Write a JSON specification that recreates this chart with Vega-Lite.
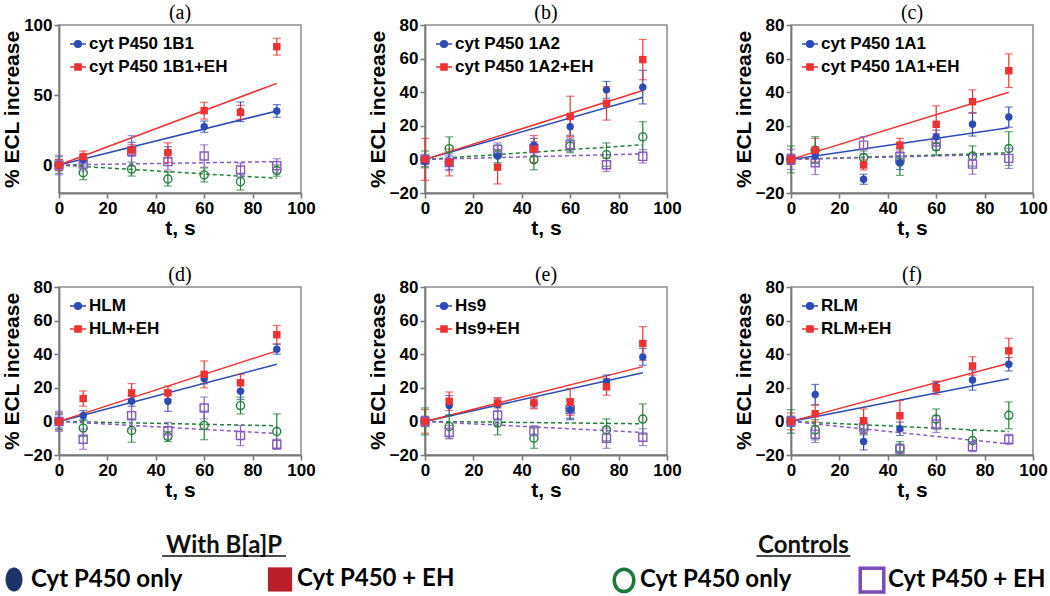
{
"$schema": "https://vega.github.io/schema/vega-lite/v6.json",
"padding": {"left": 0, "top": 2, "right": 2, "bottom": 0},
"background": "white",
"datasets": {
"fits": [
{"p":"a","s":"B1","t":0,"v":0},{"p":"a","s":"B1","t":90,"v":38.6},
{"p":"a","s":"B2","t":0,"v":0},{"p":"a","s":"B2","t":90,"v":58.3},
{"p":"a","s":"C1","t":0,"v":0},{"p":"a","s":"C1","t":90,"v":-9.5},
{"p":"a","s":"C2","t":0,"v":0},{"p":"a","s":"C2","t":90,"v":2.4},
{"p":"b","s":"B1","t":0,"v":0},{"p":"b","s":"B1","t":90,"v":37},
{"p":"b","s":"B2","t":0,"v":0},{"p":"b","s":"B2","t":90,"v":41},
{"p":"b","s":"C1","t":0,"v":0},{"p":"b","s":"C1","t":90,"v":8.7},
{"p":"b","s":"C2","t":0,"v":0},{"p":"b","s":"C2","t":90,"v":3.3},
{"p":"c","s":"B1","t":0,"v":0},{"p":"c","s":"B1","t":90,"v":18.9},
{"p":"c","s":"B2","t":0,"v":0},{"p":"c","s":"B2","t":90,"v":40},
{"p":"c","s":"C1","t":0,"v":0},{"p":"c","s":"C1","t":90,"v":3.9},
{"p":"c","s":"C2","t":0,"v":0},{"p":"c","s":"C2","t":90,"v":3.1},
{"p":"d","s":"B1","t":0,"v":0},{"p":"d","s":"B1","t":90,"v":34},
{"p":"d","s":"B2","t":0,"v":0},{"p":"d","s":"B2","t":90,"v":42},
{"p":"d","s":"C1","t":0,"v":0},{"p":"d","s":"C1","t":90,"v":-2.6},
{"p":"d","s":"C2","t":0,"v":0},{"p":"d","s":"C2","t":90,"v":-7.2},
{"p":"e","s":"B1","t":0,"v":0},{"p":"e","s":"B1","t":90,"v":29},
{"p":"e","s":"B2","t":0,"v":0},{"p":"e","s":"B2","t":90,"v":32.6},
{"p":"e","s":"C1","t":0,"v":0},{"p":"e","s":"C1","t":90,"v":-1.4},
{"p":"e","s":"C2","t":0,"v":0},{"p":"e","s":"C2","t":90,"v":-6.6},
{"p":"f","s":"B1","t":0,"v":0},{"p":"f","s":"B1","t":90,"v":25.4},
{"p":"f","s":"B2","t":0,"v":0},{"p":"f","s":"B2","t":90,"v":34.6},
{"p":"f","s":"C1","t":0,"v":0},{"p":"f","s":"C1","t":90,"v":-6},
{"p":"f","s":"C2","t":0,"v":0},{"p":"f","s":"C2","t":90,"v":-13.4}
],
"pts": [
{"p":"a","s":"B1","t":0,"v":0,"e":4},{"p":"a","s":"B1","t":10,"v":4,"e":3},{"p":"a","s":"B1","t":30,"v":11.2,"e":5},{"p":"a","s":"B1","t":45,"v":9,"e":4},{"p":"a","s":"B1","t":60,"v":27.4,"e":4},{"p":"a","s":"B1","t":75,"v":38,"e":7},{"p":"a","s":"B1","t":90,"v":38.6,"e":4.5},
{"p":"a","s":"B2","t":0,"v":0,"e":4},{"p":"a","s":"B2","t":10,"v":6,"e":4},{"p":"a","s":"B2","t":30,"v":10.7,"e":4},{"p":"a","s":"B2","t":45,"v":8.8,"e":7},{"p":"a","s":"B2","t":60,"v":38.8,"e":6},{"p":"a","s":"B2","t":75,"v":37.6,"e":5},{"p":"a","s":"B2","t":90,"v":84.5,"e":6},
{"p":"a","s":"C1","t":0,"v":0,"e":6},{"p":"a","s":"C1","t":10,"v":-5.5,"e":5},{"p":"a","s":"C1","t":30,"v":-2.9,"e":5},{"p":"a","s":"C1","t":45,"v":-10,"e":5},{"p":"a","s":"C1","t":60,"v":-7.1,"e":5},{"p":"a","s":"C1","t":75,"v":-11.9,"e":6},{"p":"a","s":"C1","t":90,"v":-4,"e":4},
{"p":"a","s":"C2","t":0,"v":0,"e":7},{"p":"a","s":"C2","t":10,"v":0.7,"e":5},{"p":"a","s":"C2","t":30,"v":10,"e":11},{"p":"a","s":"C2","t":45,"v":2.4,"e":6},{"p":"a","s":"C2","t":60,"v":6.4,"e":8},{"p":"a","s":"C2","t":75,"v":-3.6,"e":5},{"p":"a","s":"C2","t":90,"v":-0.5,"e":5},
{"p":"b","s":"B1","t":0,"v":-1.3,"e":3},{"p":"b","s":"B1","t":10,"v":-2,"e":4},{"p":"b","s":"B1","t":30,"v":2,"e":4},{"p":"b","s":"B1","t":45,"v":8.5,"e":4},{"p":"b","s":"B1","t":60,"v":19.4,"e":5},{"p":"b","s":"B1","t":75,"v":41.4,"e":5},{"p":"b","s":"B1","t":90,"v":43,"e":10},
{"p":"b","s":"B2","t":0,"v":0,"e":12.5},{"p":"b","s":"B2","t":10,"v":-1.8,"e":8},{"p":"b","s":"B2","t":30,"v":-4.6,"e":10},{"p":"b","s":"B2","t":45,"v":6.2,"e":8},{"p":"b","s":"B2","t":60,"v":25.6,"e":12},{"p":"b","s":"B2","t":75,"v":33.4,"e":10},{"p":"b","s":"B2","t":90,"v":59.4,"e":12},
{"p":"b","s":"C1","t":0,"v":0,"e":5},{"p":"b","s":"C1","t":10,"v":6.4,"e":7},{"p":"b","s":"C1","t":30,"v":2.7,"e":6},{"p":"b","s":"C1","t":45,"v":-0.2,"e":6},{"p":"b","s":"C1","t":60,"v":8,"e":4},{"p":"b","s":"C1","t":75,"v":2.8,"e":7},{"p":"b","s":"C1","t":90,"v":13.4,"e":9},
{"p":"b","s":"C2","t":0,"v":0,"e":3},{"p":"b","s":"C2","t":10,"v":-1.8,"e":5},{"p":"b","s":"C2","t":30,"v":5.8,"e":4},{"p":"b","s":"C2","t":45,"v":6.5,"e":4},{"p":"b","s":"C2","t":60,"v":8.8,"e":4},{"p":"b","s":"C2","t":75,"v":-3.2,"e":4},{"p":"b","s":"C2","t":90,"v":1.8,"e":4},
{"p":"c","s":"B1","t":0,"v":0,"e":3},{"p":"c","s":"B1","t":10,"v":2,"e":4},{"p":"c","s":"B1","t":30,"v":-11.8,"e":3},{"p":"c","s":"B1","t":45,"v":-2,"e":4},{"p":"c","s":"B1","t":60,"v":13.4,"e":4},{"p":"c","s":"B1","t":75,"v":20.9,"e":7},{"p":"c","s":"B1","t":90,"v":25.2,"e":6},
{"p":"c","s":"B2","t":0,"v":0,"e":3},{"p":"c","s":"B2","t":10,"v":5.5,"e":7},{"p":"c","s":"B2","t":30,"v":-3.3,"e":3},{"p":"c","s":"B2","t":45,"v":8.5,"e":4},{"p":"c","s":"B2","t":60,"v":20.9,"e":11},{"p":"c","s":"B2","t":75,"v":34.4,"e":7},{"p":"c","s":"B2","t":90,"v":52.8,"e":10},
{"p":"c","s":"C1","t":0,"v":0,"e":8},{"p":"c","s":"C1","t":10,"v":5.5,"e":8},{"p":"c","s":"C1","t":30,"v":1,"e":4},{"p":"c","s":"C1","t":45,"v":-1.5,"e":8},{"p":"c","s":"C1","t":60,"v":7.5,"e":5},{"p":"c","s":"C1","t":75,"v":2,"e":6},{"p":"c","s":"C1","t":90,"v":6.5,"e":10},
{"p":"c","s":"C2","t":0,"v":0,"e":6},{"p":"c","s":"C2","t":10,"v":-2,"e":7},{"p":"c","s":"C2","t":30,"v":8.5,"e":5},{"p":"c","s":"C2","t":45,"v":1.6,"e":4},{"p":"c","s":"C2","t":60,"v":10.4,"e":5},{"p":"c","s":"C2","t":75,"v":-2.8,"e":6},{"p":"c","s":"C2","t":90,"v":0.6,"e":6},
{"p":"d","s":"B1","t":0,"v":0,"e":4},{"p":"d","s":"B1","t":10,"v":3.4,"e":3},{"p":"d","s":"B1","t":30,"v":12,"e":3},{"p":"d","s":"B1","t":45,"v":12,"e":6},{"p":"d","s":"B1","t":60,"v":25.4,"e":3},{"p":"d","s":"B1","t":75,"v":18,"e":5},{"p":"d","s":"B1","t":90,"v":43,"e":3},
{"p":"d","s":"B2","t":0,"v":0,"e":5},{"p":"d","s":"B2","t":10,"v":13.6,"e":4.5},{"p":"d","s":"B2","t":30,"v":17,"e":5.5},{"p":"d","s":"B2","t":45,"v":17,"e":4},{"p":"d","s":"B2","t":60,"v":28,"e":8},{"p":"d","s":"B2","t":75,"v":23,"e":5},{"p":"d","s":"B2","t":90,"v":51.6,"e":5.5},
{"p":"d","s":"C1","t":0,"v":0,"e":5},{"p":"d","s":"C1","t":10,"v":-4,"e":5},{"p":"d","s":"C1","t":30,"v":-5.4,"e":7},{"p":"d","s":"C1","t":45,"v":-9,"e":3},{"p":"d","s":"C1","t":60,"v":-2.4,"e":8.5},{"p":"d","s":"C1","t":75,"v":9.4,"e":5},{"p":"d","s":"C1","t":90,"v":-6,"e":10.5},
{"p":"d","s":"C2","t":0,"v":0,"e":6},{"p":"d","s":"C2","t":10,"v":-10.6,"e":6},{"p":"d","s":"C2","t":30,"v":3.4,"e":8},{"p":"d","s":"C2","t":45,"v":-5.6,"e":5},{"p":"d","s":"C2","t":60,"v":8,"e":6.5},{"p":"d","s":"C2","t":75,"v":-8.4,"e":6},{"p":"d","s":"C2","t":90,"v":-13.6,"e":3},
{"p":"e","s":"B1","t":0,"v":0,"e":3},{"p":"e","s":"B1","t":10,"v":9.4,"e":6},{"p":"e","s":"B1","t":30,"v":10,"e":4},{"p":"e","s":"B1","t":45,"v":11,"e":3},{"p":"e","s":"B1","t":60,"v":7,"e":6},{"p":"e","s":"B1","t":75,"v":23.6,"e":4},{"p":"e","s":"B1","t":90,"v":38.4,"e":5},
{"p":"e","s":"B2","t":0,"v":0,"e":7},{"p":"e","s":"B2","t":10,"v":12,"e":5.5},{"p":"e","s":"B2","t":30,"v":11,"e":3},{"p":"e","s":"B2","t":45,"v":11,"e":3.5},{"p":"e","s":"B2","t":60,"v":11.6,"e":8},{"p":"e","s":"B2","t":75,"v":20.6,"e":5},{"p":"e","s":"B2","t":90,"v":46.4,"e":10},
{"p":"e","s":"C1","t":0,"v":0,"e":8},{"p":"e","s":"C1","t":10,"v":-3,"e":7},{"p":"e","s":"C1","t":30,"v":-1,"e":7},{"p":"e","s":"C1","t":45,"v":-10,"e":6},{"p":"e","s":"C1","t":60,"v":7.6,"e":6},{"p":"e","s":"C1","t":75,"v":-5,"e":6.5},{"p":"e","s":"C1","t":90,"v":1.4,"e":9},
{"p":"e","s":"C2","t":0,"v":0,"e":3},{"p":"e","s":"C2","t":10,"v":-6.4,"e":4},{"p":"e","s":"C2","t":30,"v":3.6,"e":5},{"p":"e","s":"C2","t":45,"v":-5.6,"e":3},{"p":"e","s":"C2","t":60,"v":7,"e":5},{"p":"e","s":"C2","t":75,"v":-10,"e":6},{"p":"e","s":"C2","t":90,"v":-9.4,"e":5},
{"p":"f","s":"B1","t":0,"v":0,"e":3},{"p":"f","s":"B1","t":10,"v":16,"e":6},{"p":"f","s":"B1","t":30,"v":-12,"e":5},{"p":"f","s":"B1","t":45,"v":-4.4,"e":4},{"p":"f","s":"B1","t":60,"v":20.6,"e":3},{"p":"f","s":"B1","t":75,"v":24.6,"e":6},{"p":"f","s":"B1","t":90,"v":34,"e":4},
{"p":"f","s":"B2","t":0,"v":0,"e":5},{"p":"f","s":"B2","t":10,"v":4.6,"e":5},{"p":"f","s":"B2","t":30,"v":0.4,"e":7},{"p":"f","s":"B2","t":45,"v":3.4,"e":9},{"p":"f","s":"B2","t":60,"v":20,"e":4},{"p":"f","s":"B2","t":75,"v":33,"e":5.5},{"p":"f","s":"B2","t":90,"v":42,"e":7.5},
{"p":"f","s":"C1","t":0,"v":0,"e":7},{"p":"f","s":"C1","t":10,"v":-5,"e":6},{"p":"f","s":"C1","t":30,"v":-3,"e":5},{"p":"f","s":"C1","t":45,"v":-16,"e":4},{"p":"f","s":"C1","t":60,"v":1.4,"e":6},{"p":"f","s":"C1","t":75,"v":-11.4,"e":6},{"p":"f","s":"C1","t":90,"v":3.6,"e":8},
{"p":"f","s":"C2","t":0,"v":0,"e":3},{"p":"f","s":"C2","t":10,"v":-7.6,"e":5},{"p":"f","s":"C2","t":30,"v":-3.4,"e":4},{"p":"f","s":"C2","t":45,"v":-16.4,"e":3},{"p":"f","s":"C2","t":60,"v":-1.6,"e":5},{"p":"f","s":"C2","t":75,"v":-15,"e":3},{"p":"f","s":"C2","t":90,"v":-10.6,"e":3}
]
},
"resolve": {"scale": {"x": "independent", "y": "independent", "color": "independent", "stroke": "independent", "shape": "independent"}},
"spacing": 33,
"vconcat": [
{
"columns": 3,
"spacing": {"row": 25, "column": 50},
"resolve": {"scale": {"x": "independent", "y": "independent", "color": "independent", "stroke": "independent", "shape": "independent"}},
"concat": [
{
"title": "(a)", "width": 242, "height": 168,
"encoding": {
"x": {"field": "t", "type": "quantitative", "scale": {"domain": [0, 100], "nice": false, "zero": false}, "axis": {"title": "t, s", "values": [0, 20, 40, 60, 80, 100]}},
"y": {"field": "v", "type": "quantitative", "scale": {"domain": [-20, 100], "nice": false, "zero": false}, "axis": {"title": "% ECL increase", "values": [0, 50, 100]}},
"color": {"field": "s", "type": "nominal", "scale": {"domain": ["B1", "B2", "C1", "C2"], "range": ["#2d4bb4", "#ef3131", "#23803a", "#8a5ac4"]}, "legend": {"title": null, "values": ["B1", "B2"], "labelExpr": "datum.value=='B1' ? 'cyt P450 1B1' : 'cyt P450 1B1+EH'"}}
},
"layer": [
{"data": {"name": "fits"}, "transform": [{"filter": "datum.p=='a' && (datum.s=='B1' || datum.s=='B2')"}], "mark": {"type": "line", "strokeWidth": 1.5}, "encoding": {}},
{"data": {"name": "fits"}, "transform": [{"filter": "datum.p=='a' && (datum.s=='C1' || datum.s=='C2')"}], "mark": {"type": "line", "strokeWidth": 1.5, "strokeDash": [4, 3]}, "encoding": {}},
{"data": {"name": "pts"}, "transform": [{"filter": "datum.p=='a'"}], "mark": {"type": "errorbar", "ticks": {"size": 8}, "thickness": 1.2}, "encoding": {"yError": {"field": "e"}}},
{"data": {"name": "pts"}, "transform": [{"filter": "datum.p=='a' && datum.s=='C1'"}], "mark": {"type": "point", "shape": "circle", "filled": false, "size": 65, "strokeWidth": 1.4, "opacity": 1}, "encoding": {}},
{"data": {"name": "pts"}, "transform": [{"filter": "datum.p=='a' && datum.s=='C2'"}], "mark": {"type": "point", "shape": "square", "filled": false, "size": 65, "strokeWidth": 1.4, "opacity": 1}, "encoding": {}},
{"data": {"name": "pts"}, "transform": [{"filter": "datum.p=='a' && datum.s=='B1'"}], "mark": {"type": "point", "shape": "circle", "filled": true, "size": 55, "opacity": 1}, "encoding": {}},
{"data": {"name": "pts"}, "transform": [{"filter": "datum.p=='a' && datum.s=='B2'"}], "mark": {"type": "point", "shape": "square", "filled": true, "size": 55, "opacity": 1}, "encoding": {}},
{"data": {"name": "pts"}, "transform": [{"filter": "datum.p=='none'"}], "mark": {"type": "point", "filled": true, "strokeWidth": 1.5, "opacity": 1}, "encoding": {
 "stroke": {"field": "s", "type": "nominal", "scale": {"domain": ["B1", "B2", "C1", "C2"], "range": ["#2d4bb4", "#ef3131", "#23803a", "#8a5ac4"]}, "legend": {"title": null, "values": ["B1", "B2"], "labelExpr": "datum.value=='B1' ? 'cyt P450 1B1' : 'cyt P450 1B1+EH'"}},
 "shape": {"field": "s", "type": "nominal", "scale": {"domain": ["B1", "B2", "C1", "C2"], "range": ["M-1,0H1M0.42,0A0.42,0.42,0,1,1,-0.42,0A0.42,0.42,0,1,1,0.42,0Z", "M-1,0H1M-0.38,-0.38H0.38V0.38H-0.38Z", "circle", "square"]}, "legend": {"title": null, "values": ["B1", "B2"], "labelExpr": "datum.value=='B1' ? 'cyt P450 1B1' : 'cyt P450 1B1+EH'"}}}}
]
},
{
"title": "(b)", "width": 242, "height": 168,
"encoding": {
"x": {"field": "t", "type": "quantitative", "scale": {"domain": [0, 100], "nice": false, "zero": false}, "axis": {"title": "t, s", "values": [0, 20, 40, 60, 80, 100]}},
"y": {"field": "v", "type": "quantitative", "scale": {"domain": [-20, 80], "nice": false, "zero": false}, "axis": {"title": "% ECL increase", "values": [-20, 0, 20, 40, 60, 80]}},
"color": {"field": "s", "type": "nominal", "scale": {"domain": ["B1", "B2", "C1", "C2"], "range": ["#2d4bb4", "#ef3131", "#23803a", "#8a5ac4"]}, "legend": {"title": null, "values": ["B1", "B2"], "labelExpr": "datum.value=='B1' ? 'cyt P450 1A2' : 'cyt P450 1A2+EH'"}}
},
"layer": [
{"data": {"name": "fits"}, "transform": [{"filter": "datum.p=='b' && (datum.s=='B1' || datum.s=='B2')"}], "mark": {"type": "line", "strokeWidth": 1.5}, "encoding": {}},
{"data": {"name": "fits"}, "transform": [{"filter": "datum.p=='b' && (datum.s=='C1' || datum.s=='C2')"}], "mark": {"type": "line", "strokeWidth": 1.5, "strokeDash": [4, 3]}, "encoding": {}},
{"data": {"name": "pts"}, "transform": [{"filter": "datum.p=='b'"}], "mark": {"type": "errorbar", "ticks": {"size": 8}, "thickness": 1.2}, "encoding": {"yError": {"field": "e"}}},
{"data": {"name": "pts"}, "transform": [{"filter": "datum.p=='b' && datum.s=='C1'"}], "mark": {"type": "point", "shape": "circle", "filled": false, "size": 65, "strokeWidth": 1.4, "opacity": 1}, "encoding": {}},
{"data": {"name": "pts"}, "transform": [{"filter": "datum.p=='b' && datum.s=='C2'"}], "mark": {"type": "point", "shape": "square", "filled": false, "size": 65, "strokeWidth": 1.4, "opacity": 1}, "encoding": {}},
{"data": {"name": "pts"}, "transform": [{"filter": "datum.p=='b' && datum.s=='B1'"}], "mark": {"type": "point", "shape": "circle", "filled": true, "size": 55, "opacity": 1}, "encoding": {}},
{"data": {"name": "pts"}, "transform": [{"filter": "datum.p=='b' && datum.s=='B2'"}], "mark": {"type": "point", "shape": "square", "filled": true, "size": 55, "opacity": 1}, "encoding": {}},
{"data": {"name": "pts"}, "transform": [{"filter": "datum.p=='none'"}], "mark": {"type": "point", "filled": true, "strokeWidth": 1.5, "opacity": 1}, "encoding": {
 "stroke": {"field": "s", "type": "nominal", "scale": {"domain": ["B1", "B2", "C1", "C2"], "range": ["#2d4bb4", "#ef3131", "#23803a", "#8a5ac4"]}, "legend": {"title": null, "values": ["B1", "B2"], "labelExpr": "datum.value=='B1' ? 'cyt P450 1A2' : 'cyt P450 1A2+EH'"}},
 "shape": {"field": "s", "type": "nominal", "scale": {"domain": ["B1", "B2", "C1", "C2"], "range": ["M-1,0H1M0.42,0A0.42,0.42,0,1,1,-0.42,0A0.42,0.42,0,1,1,0.42,0Z", "M-1,0H1M-0.38,-0.38H0.38V0.38H-0.38Z", "circle", "square"]}, "legend": {"title": null, "values": ["B1", "B2"], "labelExpr": "datum.value=='B1' ? 'cyt P450 1A2' : 'cyt P450 1A2+EH'"}}}}
]
},
{
"title": "(c)", "width": 242, "height": 168,
"encoding": {
"x": {"field": "t", "type": "quantitative", "scale": {"domain": [0, 100], "nice": false, "zero": false}, "axis": {"title": "t, s", "values": [0, 20, 40, 60, 80, 100]}},
"y": {"field": "v", "type": "quantitative", "scale": {"domain": [-20, 80], "nice": false, "zero": false}, "axis": {"title": "% ECL increase", "values": [-20, 0, 20, 40, 60, 80]}},
"color": {"field": "s", "type": "nominal", "scale": {"domain": ["B1", "B2", "C1", "C2"], "range": ["#2d4bb4", "#ef3131", "#23803a", "#8a5ac4"]}, "legend": {"title": null, "values": ["B1", "B2"], "labelExpr": "datum.value=='B1' ? 'cyt P450 1A1' : 'cyt P450 1A1+EH'"}}
},
"layer": [
{"data": {"name": "fits"}, "transform": [{"filter": "datum.p=='c' && (datum.s=='B1' || datum.s=='B2')"}], "mark": {"type": "line", "strokeWidth": 1.5}, "encoding": {}},
{"data": {"name": "fits"}, "transform": [{"filter": "datum.p=='c' && (datum.s=='C1' || datum.s=='C2')"}], "mark": {"type": "line", "strokeWidth": 1.5, "strokeDash": [4, 3]}, "encoding": {}},
{"data": {"name": "pts"}, "transform": [{"filter": "datum.p=='c'"}], "mark": {"type": "errorbar", "ticks": {"size": 8}, "thickness": 1.2}, "encoding": {"yError": {"field": "e"}}},
{"data": {"name": "pts"}, "transform": [{"filter": "datum.p=='c' && datum.s=='C1'"}], "mark": {"type": "point", "shape": "circle", "filled": false, "size": 65, "strokeWidth": 1.4, "opacity": 1}, "encoding": {}},
{"data": {"name": "pts"}, "transform": [{"filter": "datum.p=='c' && datum.s=='C2'"}], "mark": {"type": "point", "shape": "square", "filled": false, "size": 65, "strokeWidth": 1.4, "opacity": 1}, "encoding": {}},
{"data": {"name": "pts"}, "transform": [{"filter": "datum.p=='c' && datum.s=='B1'"}], "mark": {"type": "point", "shape": "circle", "filled": true, "size": 55, "opacity": 1}, "encoding": {}},
{"data": {"name": "pts"}, "transform": [{"filter": "datum.p=='c' && datum.s=='B2'"}], "mark": {"type": "point", "shape": "square", "filled": true, "size": 55, "opacity": 1}, "encoding": {}},
{"data": {"name": "pts"}, "transform": [{"filter": "datum.p=='none'"}], "mark": {"type": "point", "filled": true, "strokeWidth": 1.5, "opacity": 1}, "encoding": {
 "stroke": {"field": "s", "type": "nominal", "scale": {"domain": ["B1", "B2", "C1", "C2"], "range": ["#2d4bb4", "#ef3131", "#23803a", "#8a5ac4"]}, "legend": {"title": null, "values": ["B1", "B2"], "labelExpr": "datum.value=='B1' ? 'cyt P450 1A1' : 'cyt P450 1A1+EH'"}},
 "shape": {"field": "s", "type": "nominal", "scale": {"domain": ["B1", "B2", "C1", "C2"], "range": ["M-1,0H1M0.42,0A0.42,0.42,0,1,1,-0.42,0A0.42,0.42,0,1,1,0.42,0Z", "M-1,0H1M-0.38,-0.38H0.38V0.38H-0.38Z", "circle", "square"]}, "legend": {"title": null, "values": ["B1", "B2"], "labelExpr": "datum.value=='B1' ? 'cyt P450 1A1' : 'cyt P450 1A1+EH'"}}}}
]
},
{
"title": "(d)", "width": 242, "height": 168,
"encoding": {
"x": {"field": "t", "type": "quantitative", "scale": {"domain": [0, 100], "nice": false, "zero": false}, "axis": {"title": "t, s", "values": [0, 20, 40, 60, 80, 100]}},
"y": {"field": "v", "type": "quantitative", "scale": {"domain": [-20, 80], "nice": false, "zero": false}, "axis": {"title": "% ECL increase", "values": [-20, 0, 20, 40, 60, 80]}},
"color": {"field": "s", "type": "nominal", "scale": {"domain": ["B1", "B2", "C1", "C2"], "range": ["#2d4bb4", "#ef3131", "#23803a", "#8a5ac4"]}, "legend": {"title": null, "values": ["B1", "B2"], "labelExpr": "datum.value=='B1' ? 'HLM' : 'HLM+EH'"}}
},
"layer": [
{"data": {"name": "fits"}, "transform": [{"filter": "datum.p=='d' && (datum.s=='B1' || datum.s=='B2')"}], "mark": {"type": "line", "strokeWidth": 1.5}, "encoding": {}},
{"data": {"name": "fits"}, "transform": [{"filter": "datum.p=='d' && (datum.s=='C1' || datum.s=='C2')"}], "mark": {"type": "line", "strokeWidth": 1.5, "strokeDash": [4, 3]}, "encoding": {}},
{"data": {"name": "pts"}, "transform": [{"filter": "datum.p=='d'"}], "mark": {"type": "errorbar", "ticks": {"size": 8}, "thickness": 1.2}, "encoding": {"yError": {"field": "e"}}},
{"data": {"name": "pts"}, "transform": [{"filter": "datum.p=='d' && datum.s=='C1'"}], "mark": {"type": "point", "shape": "circle", "filled": false, "size": 65, "strokeWidth": 1.4, "opacity": 1}, "encoding": {}},
{"data": {"name": "pts"}, "transform": [{"filter": "datum.p=='d' && datum.s=='C2'"}], "mark": {"type": "point", "shape": "square", "filled": false, "size": 65, "strokeWidth": 1.4, "opacity": 1}, "encoding": {}},
{"data": {"name": "pts"}, "transform": [{"filter": "datum.p=='d' && datum.s=='B1'"}], "mark": {"type": "point", "shape": "circle", "filled": true, "size": 55, "opacity": 1}, "encoding": {}},
{"data": {"name": "pts"}, "transform": [{"filter": "datum.p=='d' && datum.s=='B2'"}], "mark": {"type": "point", "shape": "square", "filled": true, "size": 55, "opacity": 1}, "encoding": {}},
{"data": {"name": "pts"}, "transform": [{"filter": "datum.p=='none'"}], "mark": {"type": "point", "filled": true, "strokeWidth": 1.5, "opacity": 1}, "encoding": {
 "stroke": {"field": "s", "type": "nominal", "scale": {"domain": ["B1", "B2", "C1", "C2"], "range": ["#2d4bb4", "#ef3131", "#23803a", "#8a5ac4"]}, "legend": {"title": null, "values": ["B1", "B2"], "labelExpr": "datum.value=='B1' ? 'HLM' : 'HLM+EH'"}},
 "shape": {"field": "s", "type": "nominal", "scale": {"domain": ["B1", "B2", "C1", "C2"], "range": ["M-1,0H1M0.42,0A0.42,0.42,0,1,1,-0.42,0A0.42,0.42,0,1,1,0.42,0Z", "M-1,0H1M-0.38,-0.38H0.38V0.38H-0.38Z", "circle", "square"]}, "legend": {"title": null, "values": ["B1", "B2"], "labelExpr": "datum.value=='B1' ? 'HLM' : 'HLM+EH'"}}}}
]
},
{
"title": "(e)", "width": 242, "height": 168,
"encoding": {
"x": {"field": "t", "type": "quantitative", "scale": {"domain": [0, 100], "nice": false, "zero": false}, "axis": {"title": "t, s", "values": [0, 20, 40, 60, 80, 100]}},
"y": {"field": "v", "type": "quantitative", "scale": {"domain": [-20, 80], "nice": false, "zero": false}, "axis": {"title": "% ECL increase", "values": [-20, 0, 20, 40, 60, 80]}},
"color": {"field": "s", "type": "nominal", "scale": {"domain": ["B1", "B2", "C1", "C2"], "range": ["#2d4bb4", "#ef3131", "#23803a", "#8a5ac4"]}, "legend": {"title": null, "values": ["B1", "B2"], "labelExpr": "datum.value=='B1' ? 'Hs9' : 'Hs9+EH'"}}
},
"layer": [
{"data": {"name": "fits"}, "transform": [{"filter": "datum.p=='e' && (datum.s=='B1' || datum.s=='B2')"}], "mark": {"type": "line", "strokeWidth": 1.5}, "encoding": {}},
{"data": {"name": "fits"}, "transform": [{"filter": "datum.p=='e' && (datum.s=='C1' || datum.s=='C2')"}], "mark": {"type": "line", "strokeWidth": 1.5, "strokeDash": [4, 3]}, "encoding": {}},
{"data": {"name": "pts"}, "transform": [{"filter": "datum.p=='e'"}], "mark": {"type": "errorbar", "ticks": {"size": 8}, "thickness": 1.2}, "encoding": {"yError": {"field": "e"}}},
{"data": {"name": "pts"}, "transform": [{"filter": "datum.p=='e' && datum.s=='C1'"}], "mark": {"type": "point", "shape": "circle", "filled": false, "size": 65, "strokeWidth": 1.4, "opacity": 1}, "encoding": {}},
{"data": {"name": "pts"}, "transform": [{"filter": "datum.p=='e' && datum.s=='C2'"}], "mark": {"type": "point", "shape": "square", "filled": false, "size": 65, "strokeWidth": 1.4, "opacity": 1}, "encoding": {}},
{"data": {"name": "pts"}, "transform": [{"filter": "datum.p=='e' && datum.s=='B1'"}], "mark": {"type": "point", "shape": "circle", "filled": true, "size": 55, "opacity": 1}, "encoding": {}},
{"data": {"name": "pts"}, "transform": [{"filter": "datum.p=='e' && datum.s=='B2'"}], "mark": {"type": "point", "shape": "square", "filled": true, "size": 55, "opacity": 1}, "encoding": {}},
{"data": {"name": "pts"}, "transform": [{"filter": "datum.p=='none'"}], "mark": {"type": "point", "filled": true, "strokeWidth": 1.5, "opacity": 1}, "encoding": {
 "stroke": {"field": "s", "type": "nominal", "scale": {"domain": ["B1", "B2", "C1", "C2"], "range": ["#2d4bb4", "#ef3131", "#23803a", "#8a5ac4"]}, "legend": {"title": null, "values": ["B1", "B2"], "labelExpr": "datum.value=='B1' ? 'Hs9' : 'Hs9+EH'"}},
 "shape": {"field": "s", "type": "nominal", "scale": {"domain": ["B1", "B2", "C1", "C2"], "range": ["M-1,0H1M0.42,0A0.42,0.42,0,1,1,-0.42,0A0.42,0.42,0,1,1,0.42,0Z", "M-1,0H1M-0.38,-0.38H0.38V0.38H-0.38Z", "circle", "square"]}, "legend": {"title": null, "values": ["B1", "B2"], "labelExpr": "datum.value=='B1' ? 'Hs9' : 'Hs9+EH'"}}}}
]
},
{
"title": "(f)", "width": 242, "height": 168,
"encoding": {
"x": {"field": "t", "type": "quantitative", "scale": {"domain": [0, 100], "nice": false, "zero": false}, "axis": {"title": "t, s", "values": [0, 20, 40, 60, 80, 100]}},
"y": {"field": "v", "type": "quantitative", "scale": {"domain": [-20, 80], "nice": false, "zero": false}, "axis": {"title": "% ECL increase", "values": [-20, 0, 20, 40, 60, 80]}},
"color": {"field": "s", "type": "nominal", "scale": {"domain": ["B1", "B2", "C1", "C2"], "range": ["#2d4bb4", "#ef3131", "#23803a", "#8a5ac4"]}, "legend": {"title": null, "values": ["B1", "B2"], "labelExpr": "datum.value=='B1' ? 'RLM' : 'RLM+EH'"}}
},
"layer": [
{"data": {"name": "fits"}, "transform": [{"filter": "datum.p=='f' && (datum.s=='B1' || datum.s=='B2')"}], "mark": {"type": "line", "strokeWidth": 1.5}, "encoding": {}},
{"data": {"name": "fits"}, "transform": [{"filter": "datum.p=='f' && (datum.s=='C1' || datum.s=='C2')"}], "mark": {"type": "line", "strokeWidth": 1.5, "strokeDash": [4, 3]}, "encoding": {}},
{"data": {"name": "pts"}, "transform": [{"filter": "datum.p=='f'"}], "mark": {"type": "errorbar", "ticks": {"size": 8}, "thickness": 1.2}, "encoding": {"yError": {"field": "e"}}},
{"data": {"name": "pts"}, "transform": [{"filter": "datum.p=='f' && datum.s=='C1'"}], "mark": {"type": "point", "shape": "circle", "filled": false, "size": 65, "strokeWidth": 1.4, "opacity": 1}, "encoding": {}},
{"data": {"name": "pts"}, "transform": [{"filter": "datum.p=='f' && datum.s=='C2'"}], "mark": {"type": "point", "shape": "square", "filled": false, "size": 65, "strokeWidth": 1.4, "opacity": 1}, "encoding": {}},
{"data": {"name": "pts"}, "transform": [{"filter": "datum.p=='f' && datum.s=='B1'"}], "mark": {"type": "point", "shape": "circle", "filled": true, "size": 55, "opacity": 1}, "encoding": {}},
{"data": {"name": "pts"}, "transform": [{"filter": "datum.p=='f' && datum.s=='B2'"}], "mark": {"type": "point", "shape": "square", "filled": true, "size": 55, "opacity": 1}, "encoding": {}},
{"data": {"name": "pts"}, "transform": [{"filter": "datum.p=='none'"}], "mark": {"type": "point", "filled": true, "strokeWidth": 1.5, "opacity": 1}, "encoding": {
 "stroke": {"field": "s", "type": "nominal", "scale": {"domain": ["B1", "B2", "C1", "C2"], "range": ["#2d4bb4", "#ef3131", "#23803a", "#8a5ac4"]}, "legend": {"title": null, "values": ["B1", "B2"], "labelExpr": "datum.value=='B1' ? 'RLM' : 'RLM+EH'"}},
 "shape": {"field": "s", "type": "nominal", "scale": {"domain": ["B1", "B2", "C1", "C2"], "range": ["M-1,0H1M0.42,0A0.42,0.42,0,1,1,-0.42,0A0.42,0.42,0,1,1,0.42,0Z", "M-1,0H1M-0.38,-0.38H0.38V0.38H-0.38Z", "circle", "square"]}, "legend": {"title": null, "values": ["B1", "B2"], "labelExpr": "datum.value=='B1' ? 'RLM' : 'RLM+EH'"}}}}
]
}
]
},
{
"spacing": 132,
"resolve": {"scale": {"x": "independent", "y": "independent", "color": "independent", "stroke": "independent", "shape": "independent"}},
"hconcat": [
{
"width": 420, "height": 20,
"view": {"stroke": null},
"layer": [
{"data": {"values": [{"grp": "With B[a]P"}]},
 "mark": {"type": "text", "font": "Lato", "fontSize": 24, "fontWeight": "bold", "color": "#111111"},
 "encoding": {"x": {"field": "grp", "type": "nominal", "scale": {"type": "point", "domain": ["With B[a]P"], "padding": 0.5, "align": 0.393}, "axis": null}, "text": {"field": "grp"}}},
{"data": {"values": [{"grp": "With B[a]P"}]},
 "mark": {"type": "tick", "size": 124, "thickness": 1.5, "color": "#111111", "opacity": 1},
 "encoding": {"x": {"field": "grp", "type": "nominal", "scale": {"type": "point", "domain": ["With B[a]P"], "padding": 0.5, "align": 0.393}, "axis": null}, "y": {"datum": 0, "type": "quantitative", "scale": {"domain": [0, 1]}, "axis": null}}},
{"data": {"values": [{"b": "b1"}, {"b": "b2"}]},
 "transform": [{"filter": "datum.b=='none'"}],
 "mark": {"type": "point", "filled": true, "opacity": 1},
 "encoding": {
  "color": {"field": "b", "type": "nominal", "scale": {"domain": ["b1", "b2"], "range": ["#1c3468", "#b9202a"]}, "legend": {"title": null, "orient": "none", "legendX": -57, "legendY": 31, "direction": "horizontal", "columnPadding": 81, "labelOffset": 5, "labelFont": "Lato", "labelFontSize": 24, "labelFontWeight": "bold", "labelColor": "#000000", "symbolSize": 484, "padding": 0, "labelExpr": "datum.value=='b1' ? 'Cyt P450 only' : 'Cyt P450 + EH'"}},
  "shape": {"field": "b", "type": "nominal", "scale": {"domain": ["b1", "b2"], "range": ["M0.77,0A0.77,1.09,0,1,1,-0.77,0A0.77,1.09,0,1,1,0.77,0Z", "M-1.1,-1.1H1.1V1.1H-1.1Z"]}, "legend": {"title": null, "orient": "none", "legendX": -57, "legendY": 31, "direction": "horizontal", "columnPadding": 81, "labelOffset": 5, "labelFont": "Lato", "labelFontSize": 24, "labelFontWeight": "bold", "labelColor": "#000000", "symbolSize": 484, "padding": 0, "labelExpr": "datum.value=='b1' ? 'Cyt P450 only' : 'Cyt P450 + EH'"}}}}
]
},
{
"width": 439, "height": 20,
"view": {"stroke": null},
"layer": [
{"data": {"values": [{"grp": "Controls"}]},
 "mark": {"type": "text", "font": "Lato", "fontSize": 24, "fontWeight": "bold", "color": "#111111"},
 "encoding": {"x": {"field": "grp", "type": "nominal", "scale": {"type": "point", "domain": ["Controls"], "padding": 0.5, "align": 0.436}, "axis": null}, "text": {"field": "grp"}}},
{"data": {"values": [{"grp": "Controls"}]},
 "mark": {"type": "tick", "size": 94, "thickness": 1.5, "color": "#111111", "opacity": 1},
 "encoding": {"x": {"field": "grp", "type": "nominal", "scale": {"type": "point", "domain": ["Controls"], "padding": 0.5, "align": 0.436}, "axis": null}, "y": {"datum": 0, "type": "quantitative", "scale": {"domain": [0, 1]}, "axis": null}}},
{"data": {"values": [{"c": "c1"}, {"c": "c2"}]},
 "transform": [{"filter": "datum.c=='none'"}],
 "mark": {"type": "point", "filled": false, "opacity": 1, "strokeWidth": 3.5},
 "encoding": {
  "stroke": {"field": "c", "type": "nominal", "scale": {"domain": ["c1", "c2"], "range": ["#1b7a3a", "#7b4cb5"]}, "legend": {"title": null, "orient": "none", "legendX": -1, "legendY": 31, "direction": "horizontal", "columnPadding": 61, "labelOffset": 3, "labelFont": "Lato", "labelFontSize": 24, "labelFontWeight": "bold", "labelColor": "#000000", "symbolSize": 484, "symbolStrokeWidth": 3.5, "padding": 0, "labelExpr": "datum.value=='c1' ? 'Cyt P450 only' : 'Cyt P450 + EH'"}},
  "shape": {"field": "c", "type": "nominal", "scale": {"domain": ["c1", "c2"], "range": ["M0.89,0A0.89,1.02,0,1,1,-0.89,0A0.89,1.02,0,1,1,0.89,0Z", "M-1.07,-1.07H1.07V1.07H-1.07Z"]}, "legend": {"title": null, "orient": "none", "legendX": -1, "legendY": 31, "direction": "horizontal", "columnPadding": 61, "labelOffset": 3, "labelFont": "Lato", "labelFontSize": 24, "labelFontWeight": "bold", "labelColor": "#000000", "symbolSize": 484, "symbolStrokeWidth": 3.5, "padding": 0, "labelExpr": "datum.value=='c1' ? 'Cyt P450 only' : 'Cyt P450 + EH'"}}}}
]
}
]
}
],
"config": {
"font": "Liberation Sans",
"view": {"stroke": "#8c8c8c", "strokeWidth": 1.5},
"axis": {"grid": false, "domainColor": "#7a7a7a", "domainWidth": 1.8, "tickColor": "#7a7a7a", "tickWidth": 1.6, "tickSize": 5, "labelFont": "Liberation Sans", "labelFontWeight": "bold", "labelFontSize": 17, "labelColor": "#000000", "labelPadding": 2, "labelOverlap": false, "labelFlush": false, "titleFont": "Liberation Sans", "titleFontWeight": "bold", "titleFontSize": 21, "titleColor": "#000000", "titlePadding": 1},
"title": {"font": "Liberation Serif", "fontSize": 20, "fontWeight": "normal", "color": "#000000", "offset": -7, "anchor": "middle"},
"legend": {"orient": "top-left", "offset": 10, "padding": 0, "labelFont": "Liberation Sans", "labelFontWeight": "bold", "labelFontSize": 17, "labelColor": "#000000", "symbolSize": 256, "symbolStrokeWidth": 1.5, "symbolOpacity": 1, "rowPadding": 6, "labelOffset": 2, "labelLimit": 400}
}
}
